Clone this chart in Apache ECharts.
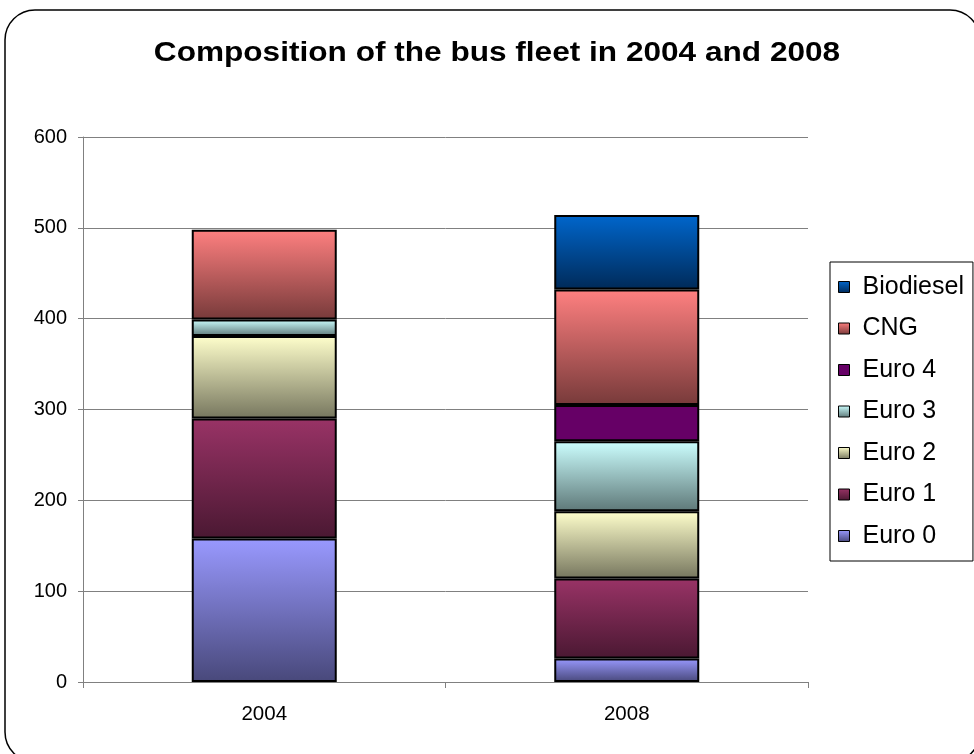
<!DOCTYPE html>
<html>
<head>
<meta charset="utf-8">
<script src="https://cdn.jsdelivr.net/npm/echarts@6/dist/echarts.min.js"></script>
<style>
html,body{margin:0;padding:0;background:#fff;}
#chart{width:974px;height:754px;}
</style>
</head>
<body>
<div id="chart"></div>
<script>
var categories = ['2004', '2008'];
var euro0 = [158, 26];
var euro1 = [132, 88];
var euro2 = [91, 74];
var euro3 = [18, 77];
var euro4 = [null, 40];
var cng = [99, 127];
var biodiesel = [null, 82];
var yTicks = [0, 100, 200, 300, 400, 500, 600];
var legendOrder = ['Biodiesel', 'CNG', 'Euro 4', 'Euro 3', 'Euro 2', 'Euro 1', 'Euro 0'];

function grad(top, bottom) {
  return new echarts.graphic.LinearGradient(0, 0, 0, 1, [
    {offset: 0, color: top},
    {offset: 1, color: bottom}
  ]);
}

var seriesDefs = [
  {name: 'Euro 0', data: euro0, color: grad('#9999FF', '#48487a')},
  {name: 'Euro 1', data: euro1, color: grad('#993366', '#4a1832')},
  {name: 'Euro 2', data: euro2, color: grad('#FFFFCC', '#76765e')},
  {name: 'Euro 3', data: euro3, color: grad('#CCFFFF', '#5e7878')},
  {name: 'Euro 4', data: euro4, color: '#660066'},
  {name: 'CNG', data: cng, color: grad('#FF8080', '#773a3a')},
  {name: 'Biodiesel', data: biodiesel, color: grad('#0066CC', '#002a58')}
];

var chart = echarts.init(document.getElementById('chart'), null, {renderer: 'canvas'});
var FONT = 'Liberation Sans, Arial, sans-serif';

chart.setOption({
  animation: false,
  backgroundColor: '#fff',
  textStyle: {fontFamily: FONT},
  graphic: [
    {
      type: 'rect',
      shape: {x: 5, y: 10, width: 975, height: 752, r: 30},
      style: {fill: 'none', stroke: '#000', lineWidth: 1.5},
      silent: true,
      z: -1
    },
    {
      type: 'text',
      x: 497,
      y: 54,
      scaleX: 1.17,
      style: {
        text: 'Composition of the bus fleet in 2004 and 2008',
        fontFamily: FONT,
        fontSize: 27,
        fontWeight: 'bold',
        fill: '#000',
        align: 'center',
        verticalAlign: 'middle'
      }
    }
  ],
  grid: {left: 83, right: 166, top: 137, bottom: 72, containLabel: false},
  legend: {
    orient: 'vertical',
    left: 830,
    top: 262,
    data: legendOrder,
    icon: 'rect',
    itemWidth: 11,
    itemHeight: 11,
    itemGap: 15.5,
    itemStyle: {borderColor: '#000', borderWidth: 1},
    textStyle: {fontSize: 25, fontFamily: FONT, color: '#000', lineHeight: 26, padding: [0, 0, 0, 8]},
    padding: [12, 9, 12, 8],
    borderColor: '#000',
    borderWidth: 1,
    selectedMode: false
  },
  xAxis: {
    type: 'category',
    data: categories,
    axisLine: {lineStyle: {color: '#808080', width: 1}},
    axisTick: {show: true, length: 6, lineStyle: {color: '#808080'}},
    axisLabel: {fontSize: 20.5, color: '#000', margin: 22, fontFamily: FONT}
  },
  yAxis: {
    type: 'value',
    min: yTicks[0],
    max: yTicks[yTicks.length - 1],
    interval: 100,
    axisLine: {show: true, lineStyle: {color: '#808080', width: 1}},
    axisTick: {show: true, length: 5, lineStyle: {color: '#808080'}},
    axisLabel: {fontSize: 20, color: '#000', margin: 16, fontFamily: FONT},
    splitLine: {show: true, lineStyle: {color: '#808080', width: 1}}
  },
  series: seriesDefs.map(function (s) {
    return {
      name: s.name,
      type: 'bar',
      stack: 'fleet',
      barWidth: '40%',
      data: s.data,
      itemStyle: {color: s.color, borderColor: '#000', borderWidth: 2}
    };
  })
});
</script>
</body>
</html>
